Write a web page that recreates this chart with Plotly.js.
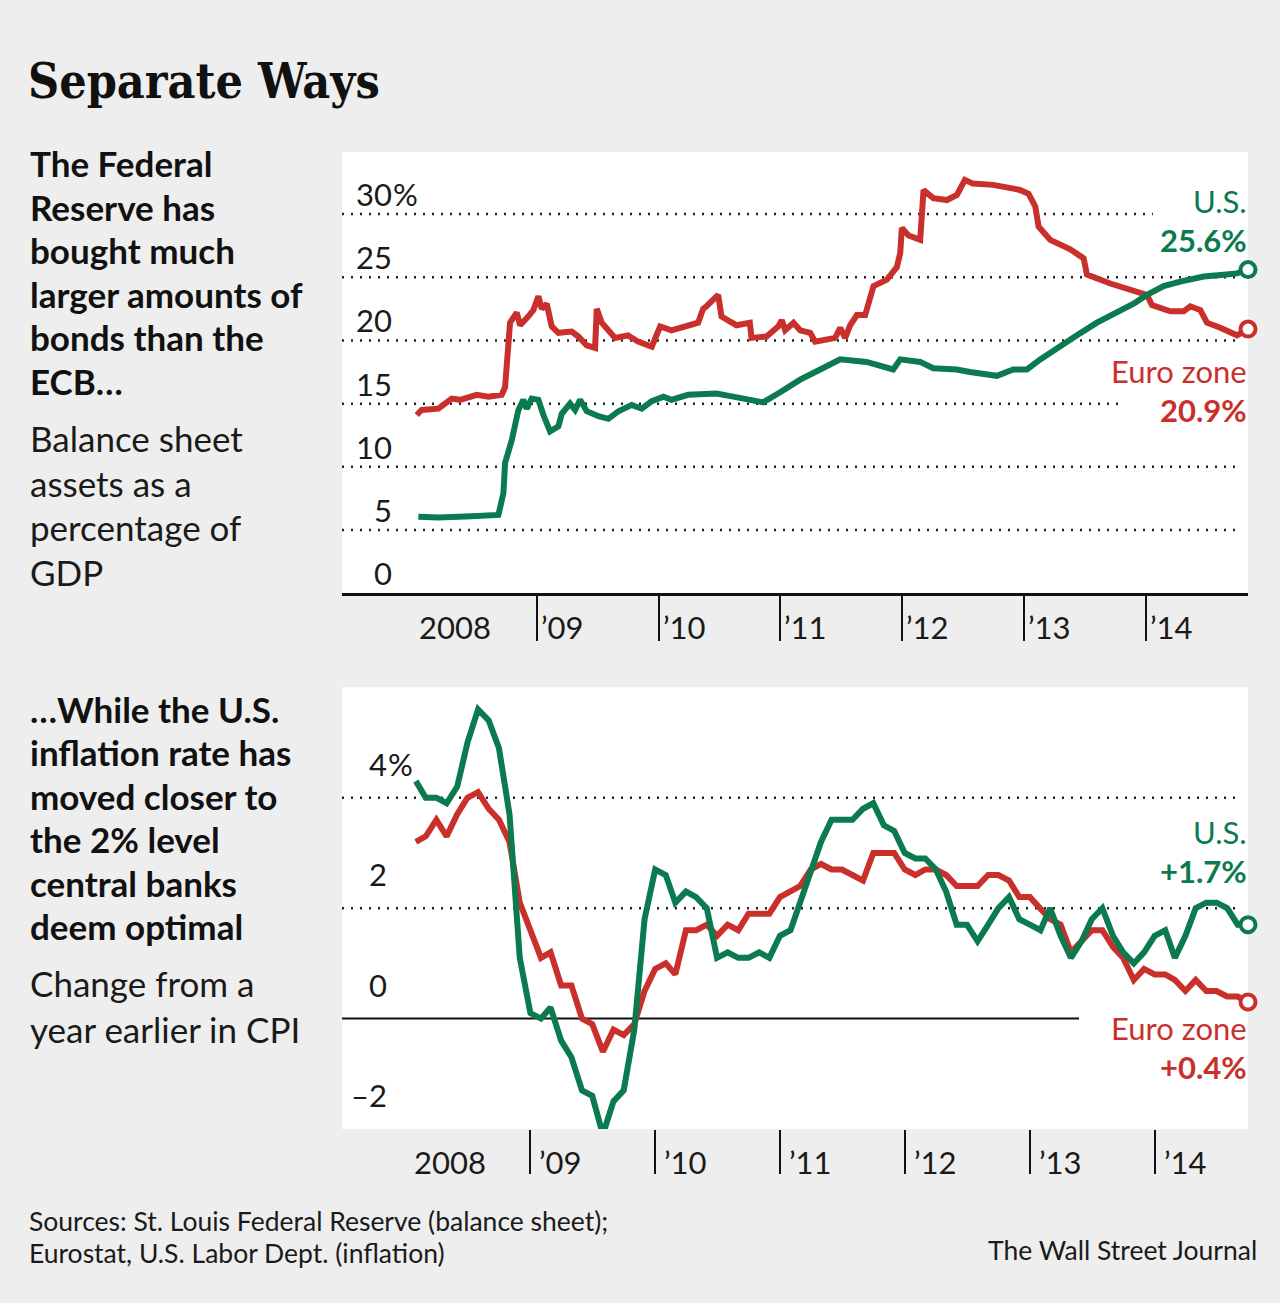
<!DOCTYPE html>
<html>
<head>
<meta charset="utf-8">
<script src="https://cdn.plot.ly/plotly-3.0.1.min.js"></script>
<style>
html,body{margin:0;padding:0;background:#eeeeee;}
#chart{width:1280px;height:1303px;}
</style>
</head>
<body>
<div id="chart"></div>
<script>
// ---------- DATA ----------
// Balance sheet assets as % of GDP
const bsUsDates = ['2008-01-11','2008-03-11','2008-06-19','2008-09-07','2008-09-22','2008-09-27','2008-10-17','2008-11-06','2008-11-21','2008-12-01','2008-12-16',
  '2009-01-05','2009-01-20','2009-02-09','2009-03-06','2009-03-16','2009-04-10','2009-04-25','2009-05-10','2009-05-30','2009-07-04','2009-08-03','2009-09-02','2009-10-12','2009-11-11','2009-12-11',
  '2010-01-15','2010-02-08','2010-03-30','2010-05-14','2010-06-23','2010-08-12','2010-10-01','2010-11-10','2010-12-31',
  '2011-03-01','2011-04-30','2011-06-29','2011-09-16','2011-12-05','2011-12-26',
  '2012-02-24','2012-04-03','2012-06-13','2012-07-22','2012-10-11','2012-11-29',
  '2013-01-09','2013-02-18','2013-04-09','2013-06-08','2013-08-07','2013-10-06','2013-11-25',
  '2014-01-04','2014-02-23','2014-04-14','2014-06-23','2014-08-22','2014-10-01','2014-11-03'];
const bsUsValues = [6.06,6.0,6.1,6.2,7.9,10.3,12.1,14.5,15.3,14.6,15.4,
  15.3,14.1,12.8,13.2,14.2,15.0,14.5,15.3,14.4,14.0,13.8,14.4,14.9,14.6,15.2,
  15.55,15.3,15.7,15.8,15.8,15.55,15.3,15.1,15.9,
  16.9,17.7,18.5,18.3,17.7,18.5,
  18.3,17.8,17.7,17.5,17.2,17.7,
  17.7,18.5,19.4,20.4,21.4,22.2,22.9,
  23.6,24.3,24.65,25.05,25.2,25.3,25.6];

const bsEzDates = ['2008-01-06','2008-01-21','2008-03-11','2008-04-20','2008-05-15','2008-07-04','2008-08-08','2008-09-17','2008-09-27','2008-10-12','2008-11-01','2008-11-11','2008-12-06','2008-12-21',
  '2009-01-05','2009-01-15','2009-01-30','2009-02-14','2009-03-06','2009-04-15','2009-05-05','2009-05-30','2009-06-24','2009-06-29','2009-07-14','2009-08-23','2009-10-01','2009-10-31','2009-12-11',
  '2010-01-05','2010-02-08','2010-03-30','2010-04-29','2010-05-14','2010-05-24','2010-06-28','2010-07-08','2010-08-02','2010-08-22','2010-10-01','2010-10-06','2010-11-20','2010-12-25',
  '2011-01-05','2011-01-15','2011-02-09','2011-03-01','2011-03-31','2011-04-15','2011-06-14','2011-06-29','2011-07-14','2011-07-29','2011-08-18','2011-09-12','2011-10-07','2011-11-16','2011-12-16','2011-12-26','2011-12-31',
  '2012-01-20','2012-02-24','2012-03-05','2012-04-03','2012-05-14','2012-06-13','2012-07-07','2012-07-31','2012-09-30','2012-12-19',
  '2013-01-14','2013-02-03','2013-02-13','2013-03-20','2013-05-19','2013-06-28','2013-07-08','2013-09-16','2013-11-15',
  '2014-01-04','2014-01-19','2014-03-15','2014-04-24','2014-05-14','2014-06-13','2014-07-03','2014-08-12','2014-10-01','2014-11-03'];
const bsEzValues = [14.1,14.5,14.6,15.4,15.3,15.7,15.55,15.7,16.3,21.4,22.2,21.2,21.9,22.4,
  23.5,22.5,22.9,21.1,20.6,20.7,20.3,19.6,19.4,22.5,21.4,20.2,20.4,19.9,19.5,
  21.1,20.8,21.1,21.4,22.5,22.7,23.6,21.9,21.5,21.2,21.4,20.2,20.3,21.1,
  21.6,20.8,21.4,20.8,20.6,19.9,20.2,21.0,20.2,21.2,22.0,22.0,24.3,24.8,25.8,26.9,28.9,
  28.3,27.95,31.9,31.25,31.1,31.5,32.7,32.4,32.3,31.9,
  31.6,30.6,29.0,27.95,27.2,26.5,25.2,24.5,24.0,
  23.6,22.8,22.3,22.3,22.7,22.4,21.4,21.0,20.4,20.9];

// CPI, change from a year earlier (monthly, Jan 2008 - Sep 2014)
const cpiMonths = ['2008-01','2008-02','2008-03','2008-04','2008-05','2008-06','2008-07','2008-08','2008-09','2008-10','2008-11','2008-12',
  '2009-01','2009-02','2009-03','2009-04','2009-05','2009-06','2009-07','2009-08','2009-09','2009-10','2009-11','2009-12',
  '2010-01','2010-02','2010-03','2010-04','2010-05','2010-06','2010-07','2010-08','2010-09','2010-10','2010-11','2010-12',
  '2011-01','2011-02','2011-03','2011-04','2011-05','2011-06','2011-07','2011-08','2011-09','2011-10','2011-11','2011-12',
  '2012-01','2012-02','2012-03','2012-04','2012-05','2012-06','2012-07','2012-08','2012-09','2012-10','2012-11','2012-12',
  '2013-01','2013-02','2013-03','2013-04','2013-05','2013-06','2013-07','2013-08','2013-09','2013-10','2013-11','2013-12',
  '2014-01','2014-02','2014-03','2014-04','2014-05','2014-06','2014-07','2014-08','2014-09'];
const cpiUs = [4.3,4.0,4.0,3.9,4.2,5.0,5.6,5.4,4.9,3.7,1.1,0.1,
  0.0,0.2,-0.4,-0.7,-1.3,-1.4,-2.1,-1.5,-1.3,-0.2,1.8,2.7,
  2.6,2.1,2.3,2.2,2.0,1.1,1.2,1.1,1.1,1.2,1.1,1.5,
  1.6,2.1,2.7,3.2,3.6,3.6,3.6,3.8,3.9,3.5,3.4,3.0,
  2.9,2.9,2.7,2.3,1.7,1.7,1.4,1.7,2.0,2.2,1.8,1.7,
  1.6,2.0,1.5,1.1,1.4,1.8,2.0,1.5,1.2,1.0,1.2,1.5,
  1.6,1.1,1.5,2.0,2.1,2.1,2.0,1.7,1.7];
const cpiEz = [3.2,3.3,3.6,3.3,3.7,4.0,4.1,3.8,3.6,3.2,2.1,1.6,
  1.1,1.2,0.6,0.6,0.0,-0.1,-0.6,-0.2,-0.3,-0.1,0.5,0.9,
  1.0,0.8,1.6,1.6,1.7,1.5,1.7,1.6,1.9,1.9,1.9,2.2,
  2.3,2.4,2.7,2.8,2.7,2.7,2.6,2.5,3.0,3.0,3.0,2.7,
  2.6,2.7,2.7,2.6,2.4,2.4,2.4,2.6,2.6,2.5,2.2,2.2,
  2.0,1.8,1.7,1.2,1.4,1.6,1.6,1.3,1.1,0.7,0.9,0.8,
  0.8,0.7,0.5,0.7,0.5,0.5,0.4,0.4,0.3];

// Axis ticks and labels
const bsTickValues = [0,5,10,15,20,25,30];
const bsTickLabels = ['0','5','10','15','20','25','30'];
const cpiTickValues = [-2,0,2,4];
const cpiTickLabels = ['\u20132','0','2','4'];
const yearTicks = ['2008-01-01','2009-01-01','2010-01-01','2011-01-01','2012-01-01','2013-01-01','2014-01-01'];
const yearLabels = ['2008','\u201909','\u201910','\u201911','\u201912','\u201913','\u201914'];

// Text
const titleText = 'Separate Ways';
const head1Lines = ['The Federal','Reserve has','bought much','larger amounts of','bonds than the','ECB\u2026'];
const sub1Lines = ['Balance sheet','assets as a','percentage of','GDP'];
const head2Lines = ['\u2026While the U.S.','inflation rate has','moved closer to','the 2% level','central banks','deem optimal'];
const sub2Lines = ['Change from a','year earlier in CPI'];
const endLabelsTop = {us:['U.S.','25.6%'], ez:['Euro zone','20.9%']};
const endLabelsBottom = {us:['U.S.','+1.7%'], ez:['Euro zone','+0.4%']};
const sourceLines = ['Sources: St. Louis Federal Reserve (balance sheet);','Eurostat, U.S. Labor Dept. (inflation)'];
const creditText = 'The Wall Street Journal';

// ---------- STYLE ----------
const W = 1280, H = 1303;
const PX = v => v / W, PY = v => 1 - v / H;
const GREEN = '#0b7a4e', RED = '#c9302c', INK = '#1a1a1a';
const SANS = 'Lato, "Open Sans", "DejaVu Sans", sans-serif';
const SERIF = '"DejaVu Serif Condensed", "DejaVu Serif", serif';
const XDOM = [PX(342), PX(1248)];

const lineTrace = (x, y, color, xa, ya, extra) => Object.assign({
  x, y, xaxis: xa, yaxis: ya, type: 'scatter', mode: 'lines',
  line: {color, width: 6, shape: 'linear'}, hoverinfo: 'skip', cliponaxis: false
}, extra || {});
const endMarker = (x, y, color, xa, ya, extra) => Object.assign({
  x: [x[x.length - 1]], y: [y[y.length - 1]], xaxis: xa, yaxis: ya, type: 'scatter', mode: 'markers',
  marker: {symbol: 'circle', size: 15, color: '#ffffff', line: {color, width: 4}},
  hoverinfo: 'skip', cliponaxis: false
}, extra || {});
const periodOpts = {xperiod: 'M1', xperiodalignment: 'end'};

const data = [
  lineTrace(bsEzDates, bsEzValues, RED, 'x', 'y'),
  lineTrace(bsUsDates, bsUsValues, GREEN, 'x', 'y'),
  endMarker(bsEzDates, bsEzValues, RED, 'x', 'y'),
  endMarker(bsUsDates, bsUsValues, GREEN, 'x', 'y'),
  lineTrace(cpiMonths, cpiEz, RED, 'x2', 'y2', periodOpts),
  lineTrace(cpiMonths, cpiUs, GREEN, 'x2', 'y2', periodOpts),
  endMarker(cpiMonths, cpiEz, RED, 'x2', 'y2', periodOpts),
  endMarker(cpiMonths, cpiUs, GREEN, 'x2', 'y2', periodOpts)
];

// Gridlines
const shapes = [];
const dotted = {color: '#222', width: 2.5, dash: '2px,7px'};
const topGridEnd = {30: 0.895, 15: 0.862};
bsTickValues.filter(v => v > 0).forEach(v => {
  shapes.push({type: 'line', xref: 'x domain', yref: 'y', x0: 0, x1: topGridEnd[v] || 0.992, y0: v, y1: v, line: dotted, layer: 'below'});
});
cpiTickValues.filter(v => v > 0).forEach(v => {
  shapes.push({type: 'line', xref: 'x2 domain', yref: 'y2', x0: 0, x1: 0.992, y0: v, y1: v, line: dotted, layer: 'below'});
});
shapes.push({type: 'line', xref: 'x2 domain', yref: 'y2', x0: 0, x1: 0.8135, y0: 0, y1: 0, line: {color: '#111', width: 2}, layer: 'below'});

// Annotations
const ann = [];
const txt = (text, x, y, opts) => Object.assign({
  text, x, y, xref: 'paper', yref: 'paper', xanchor: 'left', yanchor: 'middle', showarrow: false,
  borderpad: 0, font: {family: SANS, size: 31, color: INK}
}, opts || {});

ann.push(txt(titleText, PX(27), PY(81), {font: {family: SERIF, size: 48, color: '#111', weight: 700}}));
head1Lines.forEach((t, i) => ann.push(txt(t, PX(29), PY(163 + i * 43.6), {font: {family: SANS, size: 35, color: '#111', weight: 700}})));
sub1Lines.forEach((t, i) => ann.push(txt(t, PX(29), PY(438 + i * 44.7), {font: {family: SANS, size: 35, color: INK}})));
head2Lines.forEach((t, i) => ann.push(txt(t, PX(29), PY(709 + i * 43.4), {font: {family: SANS, size: 35, color: '#111', weight: 700}})));
sub2Lines.forEach((t, i) => ann.push(txt(t, PX(29), PY(983 + i * 46), {font: {family: SANS, size: 35, color: INK}})));

// y tick labels (above gridlines)
bsTickValues.forEach((v, i) => {
  ann.push(txt(bsTickLabels[i], PX(393), v, {xanchor: 'right', yref: 'y', yshift: 20}));
});
ann.push(txt('%', PX(392), bsTickValues[bsTickValues.length - 1], {yref: 'y', yshift: 20}));
cpiTickValues.forEach((v, i) => {
  ann.push(txt(cpiTickLabels[i], PX(388), v, {xanchor: 'right', yref: 'y2', yshift: 34}));
});
ann.push(txt('%', PX(387), cpiTickValues[cpiTickValues.length - 1], {yref: 'y2', yshift: 34}));

// x tick labels
yearTicks.forEach((d, i) => {
  ann.push(txt(yearLabels[i], d, PY(627), {xref: 'x', xshift: 3}));
  ann.push(txt(yearLabels[i], d, PY(1162), {xref: 'x2', xshift: 8}));
});

// end labels
const endLab = (t, y, color, bold) => txt(t, PX(1248), PY(y), {xanchor: 'right', font: {family: SANS, size: 31, color, weight: bold ? 700 : 400}});
ann.push(endLab(endLabelsTop.us[0], 201, GREEN, false));
ann.push(endLab(endLabelsTop.us[1], 240, GREEN, true));
ann.push(endLab(endLabelsTop.ez[0], 371, RED, false));
ann.push(endLab(endLabelsTop.ez[1], 410, RED, true));
ann.push(endLab(endLabelsBottom.us[0], 832, GREEN, false));
ann.push(endLab(endLabelsBottom.us[1], 871, GREEN, true));
ann.push(endLab(endLabelsBottom.ez[0], 1028, RED, false));
ann.push(endLab(endLabelsBottom.ez[1], 1067, RED, true));

// footer
sourceLines.forEach((t, i) => ann.push(txt(t, PX(28), PY(1221 + i * 32), {font: {family: SANS, size: 26.5, color: INK}})));
ann.push(txt(creditText, PX(1258), PY(1250), {xanchor: 'right', font: {family: SANS, size: 26.5, color: INK}}));

const hiddenY = {showgrid: false, zeroline: false, showline: false, showticklabels: false, ticks: '', fixedrange: true};
const layout = {
  width: W, height: H,
  margin: {l: 0, r: 0, t: 0, b: 0, pad: 0},
  paper_bgcolor: '#eeeeee', plot_bgcolor: '#ffffff',
  showlegend: false,
  xaxis: {domain: XDOM, anchor: 'y', type: 'date', range: ['2007-05-27', '2014-11-03'],
    showgrid: false, zeroline: false, showline: true, linecolor: '#111', linewidth: 2.5,
    ticks: 'outside', tickvals: yearTicks.slice(1), ticklen: 45, tickwidth: 2, tickcolor: '#111',
    showticklabels: false, fixedrange: true},
  yaxis: Object.assign({domain: [PY(593.3), PY(152)], anchor: 'x', range: [0, 34.9]}, hiddenY),
  xaxis2: {domain: XDOM, anchor: 'y2', type: 'date', range: ['2007-06-30', '2014-10-01'],
    showgrid: false, zeroline: false, showline: false,
    ticks: 'outside', tickvals: yearTicks.slice(1), ticklen: 44, tickwidth: 2, tickcolor: '#111',
    showticklabels: false, fixedrange: true},
  yaxis2: Object.assign({domain: [PY(1129), PY(687.3)], anchor: 'x2', range: [-2, 6]}, hiddenY),
  shapes, annotations: ann
};

Plotly.newPlot('chart', data, layout, {staticPlot: true, displayModeBar: false});
</script>
</body>
</html>
